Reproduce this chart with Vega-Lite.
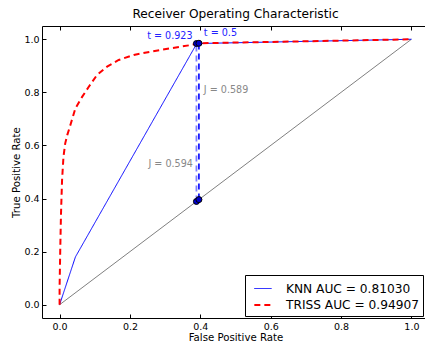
{
  "$schema": "https://vega.github.io/schema/vega-lite/v6.json",
  "width": 387,
  "height": 292,
  "autosize": "none",
  "padding": {"left": 42, "top": 26, "right": 0, "bottom": 25},
  "background": "white",
  "title": {"text": "Receiver Operating Characteristic", "fontSize": 12.2, "fontWeight": "normal", "font": "DejaVu Sans", "offset": 5, "anchor": "middle", "color": "black"},
  "config": {
    "font": "DejaVu Sans",
    "view": {"stroke": null},
    "axis": {"grid": false, "domain": true, "domainColor": "black", "domainWidth": 1, "tickColor": "black", "labelColor": "black", "titleColor": "black", "labelFontSize": 9.5, "titleFontSize": 10.2, "titleFontWeight": "normal", "tickSize": -4, "labelPadding": 7}
  },
  "resolve": {"axis": {"x": "independent", "y": "independent"}, "scale": {"color": "independent", "opacity": "independent", "strokeDash": "independent", "strokeWidth": "independent"}},
  "datasets": {
    "roc": [
      {"model": "KNN AUC = 0.81030", "ord": 0, "fpr": 0, "tpr": 0},
      {"model": "KNN AUC = 0.81030", "ord": 1, "fpr": 0.045, "tpr": 0.18},
      {"model": "KNN AUC = 0.81030", "ord": 2, "fpr": 0.390, "tpr": 0.984},
      {"model": "KNN AUC = 0.81030", "ord": 3, "fpr": 1, "tpr": 1},
      {"model": "TRISS AUC = 0.94907", "ord": 0, "fpr": 0, "tpr": 0},
      {"model": "TRISS AUC = 0.94907", "ord": 1, "fpr": 0, "tpr": 0.066},
      {"model": "TRISS AUC = 0.94907", "ord": 2, "fpr": 0.002, "tpr": 0.217},
      {"model": "TRISS AUC = 0.94907", "ord": 3, "fpr": 0.004, "tpr": 0.343},
      {"model": "TRISS AUC = 0.94907", "ord": 4, "fpr": 0.007, "tpr": 0.469},
      {"model": "TRISS AUC = 0.94907", "ord": 5, "fpr": 0.011, "tpr": 0.557},
      {"model": "TRISS AUC = 0.94907", "ord": 6, "fpr": 0.016, "tpr": 0.608},
      {"model": "TRISS AUC = 0.94907", "ord": 7, "fpr": 0.022, "tpr": 0.64},
      {"model": "TRISS AUC = 0.94907", "ord": 8, "fpr": 0.032, "tpr": 0.683},
      {"model": "TRISS AUC = 0.94907", "ord": 9, "fpr": 0.045, "tpr": 0.74},
      {"model": "TRISS AUC = 0.94907", "ord": 10, "fpr": 0.064, "tpr": 0.783},
      {"model": "TRISS AUC = 0.94907", "ord": 11, "fpr": 0.083, "tpr": 0.821},
      {"model": "TRISS AUC = 0.94907", "ord": 12, "fpr": 0.106, "tpr": 0.865},
      {"model": "TRISS AUC = 0.94907", "ord": 13, "fpr": 0.135, "tpr": 0.897},
      {"model": "TRISS AUC = 0.94907", "ord": 14, "fpr": 0.168, "tpr": 0.922},
      {"model": "TRISS AUC = 0.94907", "ord": 15, "fpr": 0.211, "tpr": 0.941},
      {"model": "TRISS AUC = 0.94907", "ord": 16, "fpr": 0.258, "tpr": 0.953},
      {"model": "TRISS AUC = 0.94907", "ord": 17, "fpr": 0.315, "tpr": 0.966},
      {"model": "TRISS AUC = 0.94907", "ord": 18, "fpr": 0.372, "tpr": 0.978},
      {"model": "TRISS AUC = 0.94907", "ord": 19, "fpr": 0.396, "tpr": 0.985},
      {"model": "TRISS AUC = 0.94907", "ord": 20, "fpr": 1, "tpr": 1}
    ],
    "diag": [
      {"fpr": 0, "tpr": 0},
      {"fpr": 1, "tpr": 1}
    ],
    "jlines": [
      {"curve": "KNN", "fpr": 0.389, "low": 0.389, "high": 0.984},
      {"curve": "TRISS", "fpr": 0.396, "low": 0.396, "high": 0.985}
    ],
    "pts": [
      {"curve": "KNN", "fpr": 0.389, "tpr": 0.389},
      {"curve": "KNN", "fpr": 0.389, "tpr": 0.984},
      {"curve": "TRISS", "fpr": 0.396, "tpr": 0.396},
      {"curve": "TRISS", "fpr": 0.396, "tpr": 0.985}
    ],
    "labelsRight": [
      {"label": "t = 0.923", "kind": "t", "fpr": 0.378, "tpr": 1.0},
      {"label": "J = 0.594", "kind": "J", "fpr": 0.379, "tpr": 0.518}
    ],
    "labelsLeft": [
      {"label": "t = 0.5", "kind": "t", "fpr": 0.41, "tpr": 1.011},
      {"label": "J = 0.589", "kind": "J", "fpr": 0.41, "tpr": 0.797}
    ]
  },
  "layer": [
    {
      "data": {"name": "diag"},
      "mark": {"type": "line", "color": "#808080", "strokeWidth": 1},
      "encoding": {
        "x": {"field": "fpr", "type": "quantitative", "scale": {"domain": [-0.05, 1.05], "nice": false, "zero": false},
              "axis": {"orient": "top", "labels": false, "title": null, "values": [0, 0.2, 0.4, 0.6, 0.8, 1.0]}},
        "y": {"field": "tpr", "type": "quantitative", "scale": {"domain": [-0.05, 1.05], "nice": false, "zero": false},
              "axis": {"orient": "right", "labels": false, "title": null, "values": [0, 0.2, 0.4, 0.6, 0.8, 1.0]}}
      }
    },
    {
      "data": {"name": "roc"},
      "mark": {"type": "line", "clip": true},
      "encoding": {
        "x": {"field": "fpr", "type": "quantitative", "title": "False Positive Rate",
              "axis": {"orient": "bottom", "values": [0, 0.2, 0.4, 0.6, 0.8, 1.0], "format": ".1f", "titlePadding": 2}},
        "y": {"field": "tpr", "type": "quantitative", "title": "True Positive Rate",
              "axis": {"orient": "left", "values": [0, 0.2, 0.4, 0.6, 0.8, 1.0], "format": ".1f", "titlePadding": 2}},
        "order": {"field": "ord", "type": "quantitative"},
        "color": {"field": "model", "type": "nominal",
                  "scale": {"domain": ["KNN AUC = 0.81030", "TRISS AUC = 0.94907"], "range": ["#0000ff", "#ff0000"]},
                  "legend": {"title": null, "orient": "none", "legendX": 203, "legendY": 249,
                             "strokeColor": "black", "fillColor": "white", "cornerRadius": 0, "padding": 4,
                             "labelFontSize": 12.2, "labelColor": "black", "symbolType": "stroke", "symbolSize": 300,
                             "symbolOffset": 4, "labelOffset": 13, "rowPadding": 0}},
        "strokeDash": {"field": "model", "type": "nominal",
                       "scale": {"domain": ["KNN AUC = 0.81030", "TRISS AUC = 0.94907"], "range": [[1, 0], [6, 4]]}},
        "strokeWidth": {"field": "model", "type": "nominal",
                        "scale": {"domain": ["KNN AUC = 0.81030", "TRISS AUC = 0.94907"], "range": [1, 2]}}
      }
    },
    {
      "data": {"name": "jlines"},
      "mark": {"type": "rule", "color": "#0000ff", "strokeDash": [6, 4], "strokeWidth": 1.8},
      "encoding": {
        "x": {"field": "fpr", "type": "quantitative", "axis": null},
        "y": {"field": "low", "type": "quantitative", "axis": null},
        "y2": {"field": "high"},
        "opacity": {"field": "curve", "type": "nominal", "scale": {"domain": ["KNN", "TRISS"], "range": [0.5, 0.9]}, "legend": null}
      }
    },
    {
      "data": {"name": "pts"},
      "mark": {"type": "point", "shape": "circle", "filled": true, "fill": "#0000cc", "stroke": "black", "strokeWidth": 1, "size": 36, "opacity": 1},
      "encoding": {
        "x": {"field": "fpr", "type": "quantitative", "axis": null},
        "y": {"field": "tpr", "type": "quantitative", "axis": null}
      }
    },
    {
      "data": {"name": "labelsRight"},
      "mark": {"type": "text", "align": "right", "baseline": "alphabetic", "fontSize": 9.6},
      "encoding": {
        "x": {"field": "fpr", "type": "quantitative", "axis": null},
        "y": {"field": "tpr", "type": "quantitative", "axis": null},
        "text": {"field": "label"},
        "color": {"field": "kind", "type": "nominal", "scale": {"domain": ["t", "J"], "range": ["#2222ff", "#888888"]}, "legend": null}
      }
    },
    {
      "data": {"name": "labelsLeft"},
      "mark": {"type": "text", "align": "left", "baseline": "alphabetic", "fontSize": 9.6},
      "encoding": {
        "x": {"field": "fpr", "type": "quantitative", "axis": null},
        "y": {"field": "tpr", "type": "quantitative", "axis": null},
        "text": {"field": "label"},
        "color": {"field": "kind", "type": "nominal", "scale": {"domain": ["t", "J"], "range": ["#2222ff", "#888888"]}, "legend": null}
      }
    }
  ]
}
